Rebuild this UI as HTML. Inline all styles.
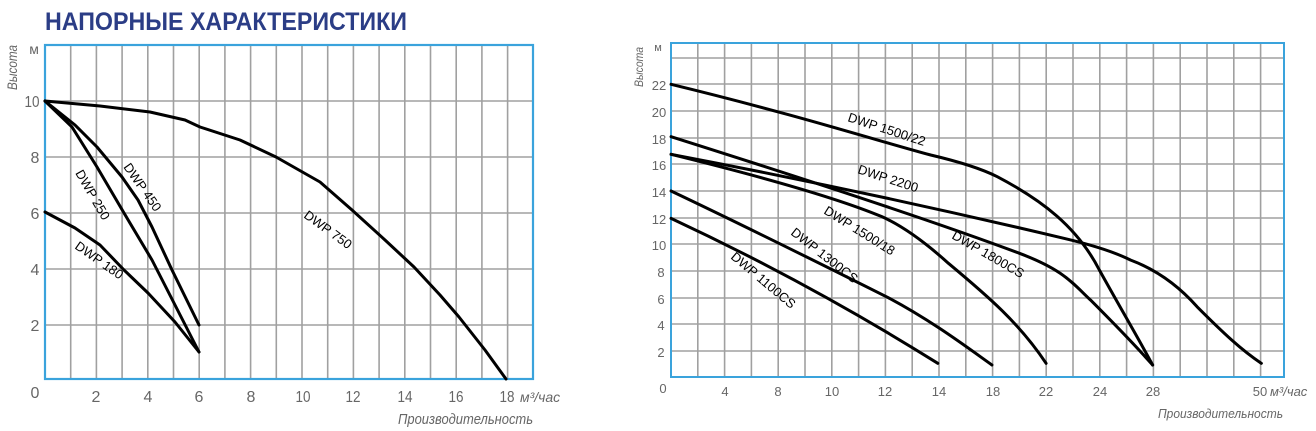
<!DOCTYPE html>
<html><head><meta charset="utf-8"><style>
html,body{margin:0;padding:0;background:#fff;}
svg{display:block;}
.g{stroke:#a0a0a0;stroke-width:1.6;}
.c{fill:none;stroke:#000;stroke-width:3;stroke-linejoin:round;stroke-linecap:round;vector-effect:non-scaling-stroke;}
.t{font-family:"Liberation Sans",sans-serif;fill:#666;}
.l{font-family:"Liberation Sans",sans-serif;fill:#000;font-size:13px;}
</style></head><body>
<svg width="1316" height="431" viewBox="0 0 1316 431" xmlns="http://www.w3.org/2000/svg">
<text x="45" y="30" font-family="Liberation Sans,sans-serif" font-weight="bold" font-size="25" fill="#2b3d86" textLength="362" lengthAdjust="spacingAndGlyphs">НАПОРНЫЕ ХАРАКТЕРИСТИКИ</text>

<!-- LEFT CHART -->
<g class="g">
<line x1="70.7" y1="45" x2="70.7" y2="379"/><line x1="96.4" y1="45" x2="96.4" y2="379"/><line x1="122.1" y1="45" x2="122.1" y2="379"/><line x1="147.8" y1="45" x2="147.8" y2="379"/><line x1="173.5" y1="45" x2="173.5" y2="379"/><line x1="199.2" y1="45" x2="199.2" y2="379"/><line x1="224.9" y1="45" x2="224.9" y2="379"/><line x1="250.6" y1="45" x2="250.6" y2="379"/><line x1="276.3" y1="45" x2="276.3" y2="379"/><line x1="302" y1="45" x2="302" y2="379"/><line x1="327.7" y1="45" x2="327.7" y2="379"/><line x1="353.4" y1="45" x2="353.4" y2="379"/><line x1="379.1" y1="45" x2="379.1" y2="379"/><line x1="404.8" y1="45" x2="404.8" y2="379"/><line x1="430.5" y1="45" x2="430.5" y2="379"/><line x1="456.2" y1="45" x2="456.2" y2="379"/><line x1="481.9" y1="45" x2="481.9" y2="379"/><line x1="507.6" y1="45" x2="507.6" y2="379"/>
<line x1="45" y1="101" x2="533" y2="101"/><line x1="45" y1="157" x2="533" y2="157"/><line x1="45" y1="213" x2="533" y2="213"/><line x1="45" y1="269" x2="533" y2="269"/><line x1="45" y1="325" x2="533" y2="325"/>
</g>
<rect x="45" y="45" width="488" height="334" fill="none" stroke="#3aa3dc" stroke-width="2.2"/>
<g class="t" font-size="16" text-anchor="middle">
<text x="34" y="54" font-size="14">м</text>
<text x="32" y="107" textLength="15" lengthAdjust="spacingAndGlyphs">10</text><text x="35" y="163">8</text><text x="35" y="219">6</text><text x="35" y="275">4</text><text x="35" y="331">2</text><text x="35" y="398">0</text>
<text x="96" y="402">2</text><text x="148" y="402">4</text><text x="199" y="402">6</text><text x="251" y="402">8</text><text x="303" y="402" textLength="15" lengthAdjust="spacingAndGlyphs">10</text><text x="353" y="402" textLength="15" lengthAdjust="spacingAndGlyphs">12</text><text x="405" y="402" textLength="15" lengthAdjust="spacingAndGlyphs">14</text><text x="456" y="402" textLength="15" lengthAdjust="spacingAndGlyphs">16</text><text x="507" y="402" textLength="15" lengthAdjust="spacingAndGlyphs">18</text>
</g>
<text class="t" x="520" y="402" font-size="14" font-style="italic">м³/час</text>
<text class="t" x="398" y="424" font-size="15" font-style="italic" textLength="135" lengthAdjust="spacingAndGlyphs">Производительность</text>
<text class="t" transform="translate(17,90) rotate(-90)" font-size="14" font-style="italic" textLength="45" lengthAdjust="spacingAndGlyphs">Высота</text>

<g class="c">
<polyline points="45,101 100,106 150,112 185,120 200,127 240,140 276,157 320,182 352,210 385,240 414,267 440,295 459,317 485,350 506,379"/>
<polyline points="45,101 75,125 97,147 122,177 138,200 152,227 172,270 199,325"/>
<polyline points="45,101 72,127 97,167 124,213 152,260 175,305 199,352"/>
<polyline points="45,212 75,228 100,245 124,270 148,293 175,322 199,352"/>
</g>
<g class="l">
<text transform="translate(75,173) rotate(60)">DWP 250</text>
<text transform="translate(123,167) rotate(55)">DWP 450</text>
<text transform="translate(74,248) rotate(35)">DWP 180</text>
<text transform="translate(303,217) rotate(36)">DWP 750</text>
</g>

<!-- RIGHT CHART -->
<g class="g">
<line x1="697.8" y1="43" x2="697.8" y2="377"/><line x1="724.6" y1="43" x2="724.6" y2="377"/><line x1="751.4" y1="43" x2="751.4" y2="377"/><line x1="778.2" y1="43" x2="778.2" y2="377"/><line x1="805" y1="43" x2="805" y2="377"/><line x1="831.8" y1="43" x2="831.8" y2="377"/><line x1="858.6" y1="43" x2="858.6" y2="377"/><line x1="885.4" y1="43" x2="885.4" y2="377"/><line x1="912.2" y1="43" x2="912.2" y2="377"/><line x1="939" y1="43" x2="939" y2="377"/><line x1="965.8" y1="43" x2="965.8" y2="377"/><line x1="992.6" y1="43" x2="992.6" y2="377"/><line x1="1019.4" y1="43" x2="1019.4" y2="377"/><line x1="1046.2" y1="43" x2="1046.2" y2="377"/><line x1="1073" y1="43" x2="1073" y2="377"/><line x1="1099.8" y1="43" x2="1099.8" y2="377"/><line x1="1126.6" y1="43" x2="1126.6" y2="377"/><line x1="1153.4" y1="43" x2="1153.4" y2="377"/><line x1="1180.2" y1="43" x2="1180.2" y2="377"/><line x1="1207" y1="43" x2="1207" y2="377"/><line x1="1233.8" y1="43" x2="1233.8" y2="377"/><line x1="1260.6" y1="43" x2="1260.6" y2="377"/>
<line x1="671" y1="58" x2="1284" y2="58"/><line x1="671" y1="84" x2="1284" y2="84"/><line x1="671" y1="111" x2="1284" y2="111"/><line x1="671" y1="138" x2="1284" y2="138"/><line x1="671" y1="164" x2="1284" y2="164"/><line x1="671" y1="191" x2="1284" y2="191"/><line x1="671" y1="218" x2="1284" y2="218"/><line x1="671" y1="244" x2="1284" y2="244"/><line x1="671" y1="271" x2="1284" y2="271"/><line x1="671" y1="298" x2="1284" y2="298"/><line x1="671" y1="324" x2="1284" y2="324"/><line x1="671" y1="351" x2="1284" y2="351"/>
</g>
<rect x="671" y="43" width="613" height="334" fill="none" stroke="#3aa3dc" stroke-width="2"/>
<g class="t" font-size="13" text-anchor="middle">
<text x="658" y="51" font-size="11">м</text>
<text x="659" y="90">22</text><text x="659" y="117">20</text><text x="659" y="144">18</text><text x="659" y="170">16</text><text x="659" y="197">14</text><text x="659" y="224">12</text><text x="659" y="250">10</text><text x="661" y="277">8</text><text x="661" y="304">6</text><text x="661" y="330">4</text><text x="661" y="357">2</text><text x="663" y="393">0</text>
<text x="725" y="396">4</text><text x="778" y="396">8</text><text x="832" y="396">10</text><text x="885" y="396">12</text><text x="939" y="396">14</text><text x="993" y="396">18</text><text x="1046" y="396">22</text><text x="1100" y="396">24</text><text x="1153" y="396">28</text><text x="1260" y="396">50</text>
</g>
<text class="t" x="1270" y="396" font-size="13" font-style="italic">м³/час</text>
<text class="t" x="1158" y="418" font-size="13" font-style="italic" textLength="125" lengthAdjust="spacingAndGlyphs">Производительность</text>
<text class="t" transform="translate(643,87) rotate(-90)" font-size="12" font-style="italic" textLength="40" lengthAdjust="spacingAndGlyphs">Высота</text>

<g transform="translate(620,30) scale(0.44385,0.33333)">
<path class="c" d="M115,163 C400,255 600,340 700,375 C780,400 820,420 850,440 C950,510 1030,590 1080,720 C1130,840 1170,930 1200,1005"/>
<path class="c" d="M115,373 C400,445 700,530 1000,625 C1080,650 1120,670 1150,690 C1210,720 1260,770 1300,830 C1360,910 1400,960 1445,1000"/>
<path class="c" d="M115,320 C400,440 700,570 900,670 C1000,720 1020,760 1060,810 C1120,890 1170,960 1200,1005"/>
<path class="c" d="M115,373 C350,450 500,510 590,560 C640,590 690,640 740,700 C830,800 900,880 960,1000"/>
<path class="c" d="M115,483 C300,600 480,720 600,800 C700,870 780,950 838,1005"/>
<path class="c" d="M115,565 C300,680 500,820 716,1000"/>
</g>
<g class="l">
<text transform="translate(847,121) rotate(18)">DWP 1500/22</text>
<text transform="translate(857,173) rotate(18)">DWP 2200</text>
<text transform="translate(823,213) rotate(32)">DWP 1500/18</text>
<text transform="translate(951,238) rotate(30)">DWP 1800CS</text>
<text transform="translate(790,234) rotate(38)">DWP 1300CS</text>
<text transform="translate(730,258) rotate(40)">DWP 1100CS</text>
</g>
</svg>
</body></html>
